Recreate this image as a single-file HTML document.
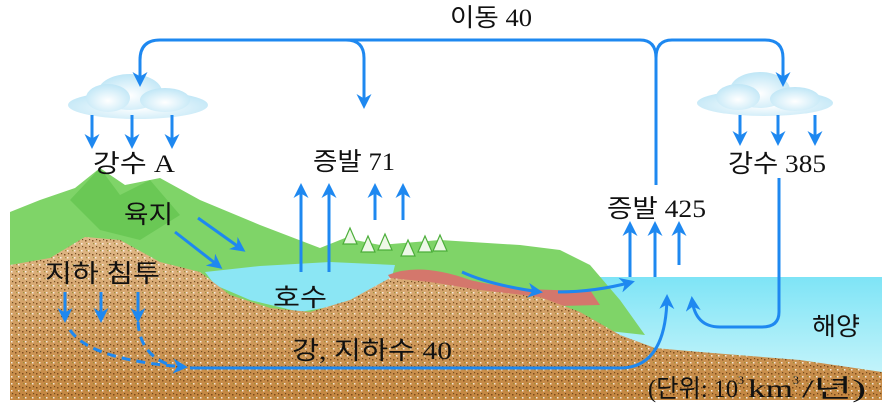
<!DOCTYPE html>
<html><head><meta charset="utf-8"><style>
html,body{margin:0;padding:0;background:#fff}
svg{display:block}
text{font-family:"Liberation Serif","Noto Sans CJK KR",serif;fill:#111}
</style></head><body>
<svg width="891" height="408" viewBox="0 0 891 408" xmlns="http://www.w3.org/2000/svg">
<defs>
<marker id="ah" viewBox="0 0 10 10" refX="8" refY="5" markerWidth="5" markerHeight="5" orient="auto-start-reverse" markerUnits="strokeWidth">
<path d="M0,0 L10,5 L0,10 L3,5 z" fill="#1e88f0"/></marker>
<linearGradient id="sea" x1="0" y1="0" x2="0" y2="1"><stop offset="0" stop-color="#7ee4f6"/><stop offset="1" stop-color="#cdf6fb"/></linearGradient>
<linearGradient id="ground" x1="0" y1="0" x2="0" y2="1"><stop offset="0" stop-color="#e0b888"/><stop offset="1" stop-color="#c48640"/></linearGradient>
<pattern id="dots" width="7" height="7" patternUnits="userSpaceOnUse">
<rect x="1" y="2" width="1.5" height="1.5" fill="#6a3a10"/><rect x="4" y="5" width="1.5" height="1.5" fill="#fff"/><rect x="5" y="1" width="1.2" height="1.2" fill="#5a3a14"/><rect x="2" y="5" width="1.2" height="1.2" fill="#8a8a2e"/></pattern>
<radialGradient id="cl" cx="0.5" cy="0.6" r="0.6"><stop offset="0" stop-color="#fff"/><stop offset="1" stop-color="#bfe6f6"/></radialGradient>
</defs>
<rect x="585" y="277" width="297" height="110" fill="url(#sea)"/>
<path d="M10,212 L40,200 L75,188 L100,168 L125,185 L160,178 L200,200 L260,225 L320,248 L345,238 L380,245 L440,240 L520,245 L560,250 L590,265 L620,300 L645,335 L600,330 L10,300 Z" fill="#7fd468"/>
<path d="M70,200 L100,168 L120,195 L150,180 L180,215 L140,240 L100,230 Z" fill="#5cc04a" opacity="0.6"/>
<path d="M205,272 L260,266 L330,262 L395,265 L390,285 L340,305 L300,312 L250,300 L215,285 Z" fill="#8be6f4"/>
<path d="M388,275 Q420,262 470,280 Q520,292 590,290 L600,305 L560,306 Q500,300 440,288 Q410,282 395,285 Z" fill="#d4776c"/>
<path d="M10,265 L50,258 L85,237 L120,240 L160,262 L200,272 L230,295 L270,308 L310,312 L350,300 L390,278 L430,282 L480,290 L540,297 L580,312 L620,335 L655,348 L700,352 L800,360 L882,372 L882,400 L10,400 Z" fill="url(#ground)"/>
<path d="M10,265 L50,258 L85,237 L120,240 L160,262 L200,272 L230,295 L270,308 L310,312 L350,300 L390,278 L430,282 L480,290 L540,297 L580,312 L620,335 L655,348 L700,352 L800,360 L882,372 L882,400 L10,400 Z" fill="url(#dots)" opacity="0.8"/>
<g fill="#eef8e8" stroke="#4cae3a" stroke-width="1.2">
<path d="M350,228 l-7,16 h14 z"/><path d="M368,236 l-7,16 h14 z"/><path d="M385,234 l-7,16 h14 z"/><path d="M408,240 l-7,16 h14 z"/><path d="M425,236 l-7,16 h14 z"/><path d="M440,235 l-7,16 h14 z"/></g>
<g fill="url(#cl)">
<ellipse cx="138" cy="105" rx="70" ry="14"/><ellipse cx="130" cy="92" rx="32" ry="18"/><ellipse cx="108" cy="98" rx="22" ry="14"/><ellipse cx="165" cy="100" rx="25" ry="12"/>
<ellipse cx="765" cy="103" rx="68" ry="13"/><ellipse cx="760" cy="90" rx="30" ry="18"/><ellipse cx="738" cy="97" rx="22" ry="13"/><ellipse cx="795" cy="99" rx="25" ry="12"/>
</g>
<g stroke="#1e88f0" stroke-width="3" fill="none" marker-end="url(#ah)">
<path d="M656,185 L656,58 Q656,40 640,40 L160,40 Q140,40 140,60 L140,84"/>
<path d="M656,58 Q656,40 672,40 L765,40 Q783,40 783,58 L783,84"/>
<path d="M346,40 Q364,40 364,58 L364,106"/>
<path d="M92,115 L92,146"/><path d="M132,115 L132,146"/><path d="M172,115 L172,146"/>
<path d="M740,115 L740,143"/><path d="M778,115 L778,143"/><path d="M815,115 L815,143"/>
<path d="M301,272 L301,186"/><path d="M329,272 L329,186"/><path d="M375,220 L375,186"/><path d="M403,220 L403,186"/>
<path d="M630,277 L630,224"/><path d="M655,277 L655,224"/><path d="M679,265 L679,224"/>
<path d="M175,232 L220,267"/><path d="M198,218 L243,250"/>
<path d="M65,292 L65,320"/><path d="M101,292 L101,320"/><path d="M138,292 L138,320"/>
<path d="M462,272 Q490,285 540,292"/>
<path d="M558,292 Q595,292 632,282"/>
<path d="M190,368 L620,368 Q666,368 667,297"/>
<path d="M779,178 L779,312 Q779,327 762,327 L720,327 Q695,327 692,299"/>
</g>
<g stroke="#1e88f0" stroke-width="3" fill="none" stroke-dasharray="9,6">
<path d="M70,330 Q90,360 185,367" marker-end="url(#ah)"/>
<path d="M138,322 Q140,355 170,365"/>
</g>
<g font-size="25">
<text x="450" y="26" textLength="82" lengthAdjust="spacingAndGlyphs">이동 40</text>
<text x="93" y="172" textLength="82" lengthAdjust="spacingAndGlyphs">강수 A</text>
<text x="313" y="170" textLength="82" lengthAdjust="spacingAndGlyphs">증발 71</text>
<text x="728" y="172" textLength="98" lengthAdjust="spacingAndGlyphs">강수 385</text>
<text x="607" y="217" textLength="99" lengthAdjust="spacingAndGlyphs">증발 425</text>
<text x="124" y="223" textLength="49" lengthAdjust="spacingAndGlyphs">육지</text>
<text x="45" y="282" textLength="115" lengthAdjust="spacingAndGlyphs">지하  침투</text>
<text x="273" y="306" textLength="54" lengthAdjust="spacingAndGlyphs">호수</text>
<text x="292" y="359" textLength="160" lengthAdjust="spacingAndGlyphs">강, 지하수 40</text>
<text x="812" y="335" textLength="48" lengthAdjust="spacingAndGlyphs">해양</text>
<text x="648" y="397" textLength="90" lengthAdjust="spacingAndGlyphs">(단위: 10</text>
<text x="738" y="384" font-size="12">3</text>
<text x="748" y="397" textLength="45" lengthAdjust="spacingAndGlyphs">km</text>
<text x="793" y="384" font-size="12">3</text>
<text x="802" y="397" textLength="64" lengthAdjust="spacingAndGlyphs">/년)</text>
</g>
</svg>
</body></html>
